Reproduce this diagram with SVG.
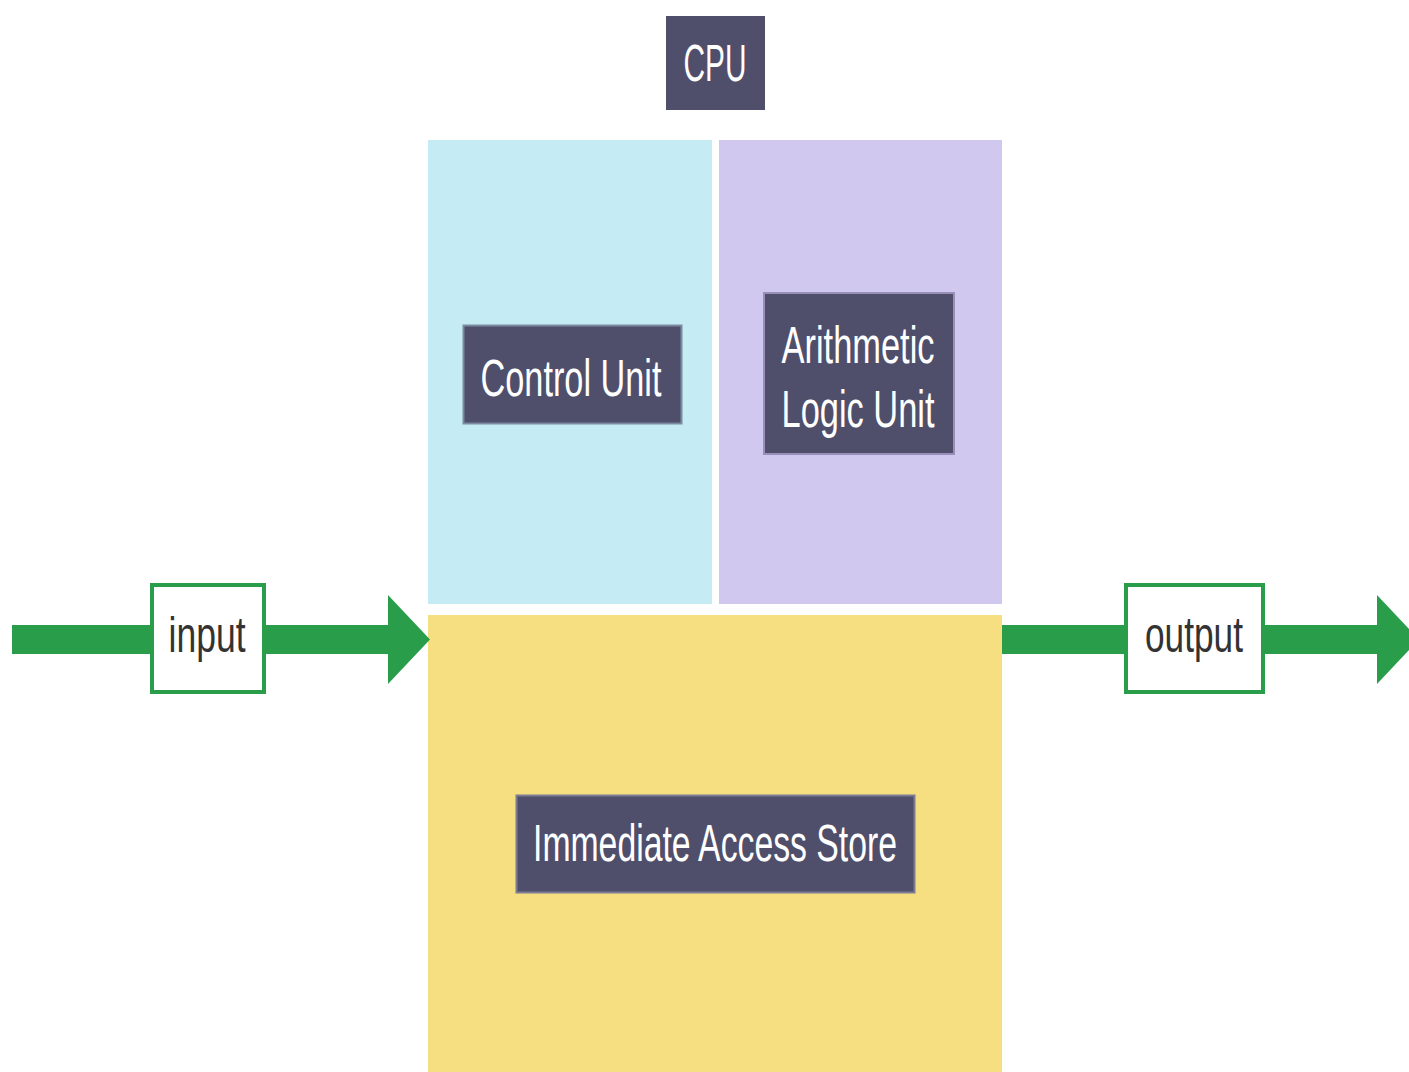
<svg xmlns="http://www.w3.org/2000/svg" width="1409" height="1072" viewBox="0 0 1409 1072">
<style>
.dark{fill:#4f4f6b}
.lbl{font-family:"Liberation Sans",Arial,sans-serif;font-size:52px;fill:#ffffff}
.io{font-family:"Liberation Sans",Arial,sans-serif;font-size:50px;fill:#333333}
.iobox{fill:#ffffff;stroke:#2a9d4a;stroke-width:4}
.flow{fill:#2a9d4a}
</style>
<rect width="1409" height="1072" fill="#ffffff"/>
<g id="cpu-title">
<rect class="dark" x="666" y="16" width="99" height="94"/>
<text class="lbl" x="715" y="81" text-anchor="middle" textLength="63" lengthAdjust="spacingAndGlyphs">CPU</text>
</g>
<g id="control-unit">
<rect x="428" y="140" width="284" height="464" fill="#c5ecf5"/>
<rect class="dark" x="463.5" y="325.5" width="218" height="98" stroke="#7c8aa0" stroke-width="2"/>
<text class="lbl" x="571" y="396" text-anchor="middle" textLength="181" lengthAdjust="spacingAndGlyphs">Control Unit</text>
</g>
<g id="alu">
<rect x="719" y="140" width="283" height="464" fill="#d0c8ee"/>
<rect class="dark" x="764" y="293" width="190" height="161" stroke="#9890b8" stroke-width="2"/>
<text class="lbl" x="858" y="363" text-anchor="middle" textLength="153" lengthAdjust="spacingAndGlyphs">Arithmetic</text>
<text class="lbl" x="858" y="427" text-anchor="middle" textLength="153" lengthAdjust="spacingAndGlyphs">Logic Unit</text>
</g>
<g id="ias">
<rect x="428" y="615" width="574" height="457" fill="#f5df80"/>
<rect class="dark" x="516.5" y="795.5" width="398" height="97" stroke="#7c7c94" stroke-width="2"/>
<text class="lbl" x="715" y="861" text-anchor="middle" textLength="364" lengthAdjust="spacingAndGlyphs">Immediate Access Store</text>
</g>
<g id="connectors">
<rect class="flow" x="12" y="625" width="380" height="29"/>
<polygon class="flow" points="388,595 430,639.5 388,684"/>
<rect class="flow" x="1002" y="625" width="380" height="29"/>
<polygon class="flow" points="1377,595 1419,639.5 1377,684"/>
</g>
<g id="input">
<rect class="iobox" x="152" y="585" width="112" height="107"/>
<text class="io" x="207" y="652" text-anchor="middle" textLength="77" lengthAdjust="spacingAndGlyphs">input</text>
</g>
<g id="output">
<rect class="iobox" x="1126" y="585" width="137" height="107"/>
<text class="io" x="1194" y="652" text-anchor="middle" textLength="98" lengthAdjust="spacingAndGlyphs">output</text>
</g>
</svg>
